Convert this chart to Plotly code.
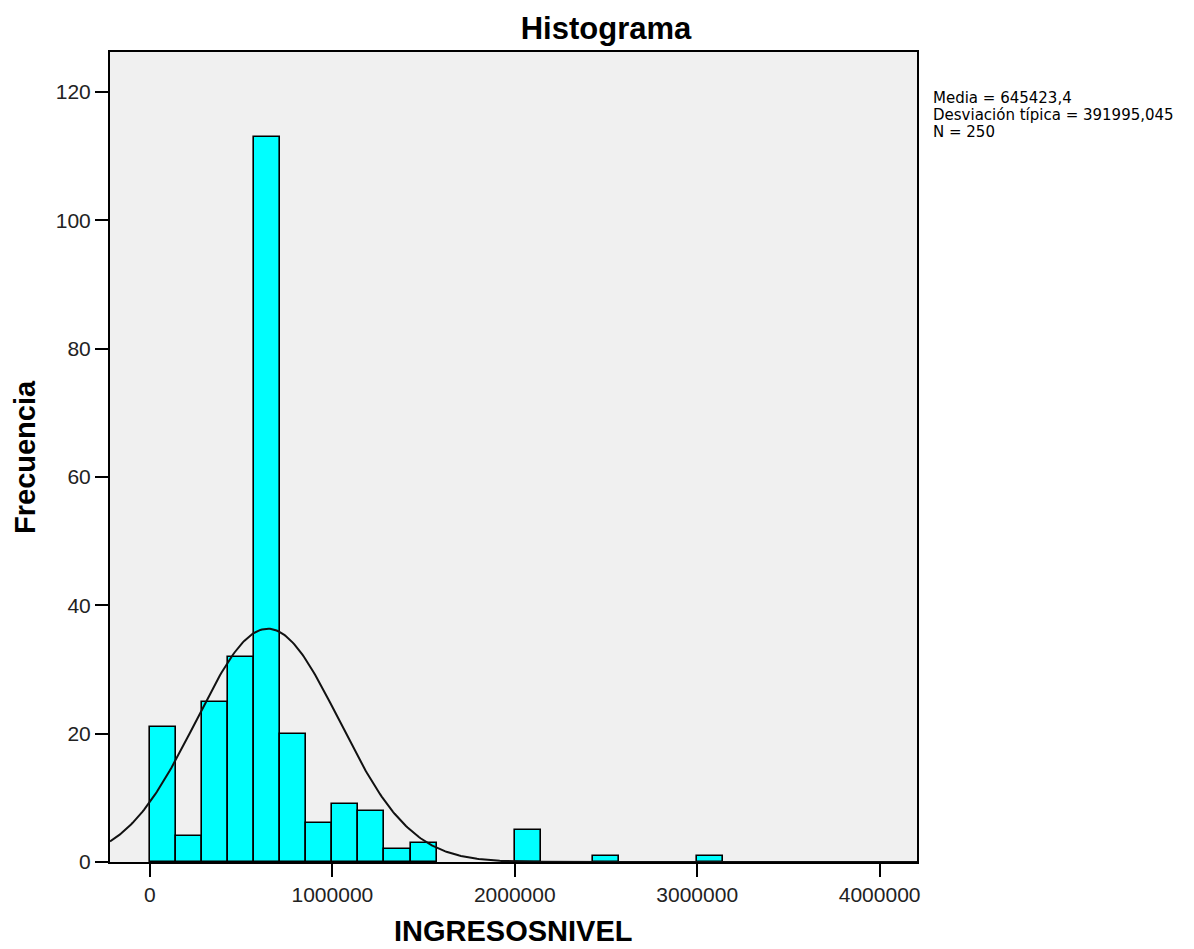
import numpy as np
import plotly.graph_objects as go

# ---- data ----
bin_width = 1_000_000 / 7  # seven bins per 1,000,000
bin_index = [0, 1, 2, 3, 4, 5, 6, 7, 8, 9, 10, 14, 17, 21]
counts = [21, 4, 25, 32, 113, 20, 6, 9, 8, 2, 3, 5, 1, 1]
mean_val = 645423.4
std_val = 391995.045
n_val = 250
x_ticks = [0, 1000000, 2000000, 3000000, 4000000]
y_ticks = [0, 20, 40, 60, 80, 100, 120]
stats_lines = ["Media = 645423,4", "Desviación típica = 391995,045", "N = 250"]

# ---- layout geometry (pixels) ----
W, H = 1194, 949
L, R, T, B = 110, 917, 52, 862
x_range = [-219000, 4205000]
y_range = [0, 126.2]

FONT = "Arial, Liberation Sans, sans-serif"
STAT_FONT = "DejaVu Sans, Arial, sans-serif"

centers = [(i + 0.5) * bin_width for i in bin_index]

fig = go.Figure()
fig.add_trace(go.Bar(
    x=centers, y=counts, width=[bin_width] * len(counts),
    marker=dict(color="#00FFFF", line=dict(color="#000000", width=1.6)),
    showlegend=False, hoverinfo="x+y",
))

# fitted normal curve (from mean, sd and N reported on the chart)
xc = np.linspace(x_range[0], x_range[1], 500)
yc = n_val * bin_width / (std_val * np.sqrt(2 * np.pi)) * np.exp(-0.5 * ((xc - mean_val) / std_val) ** 2)
fig.add_trace(go.Scatter(x=xc, y=yc, mode="lines",
                         line=dict(color="#111111", width=2), showlegend=False,
                         hoverinfo="skip"))

def px_x(p):
    return (p - L) / (R - L)

def px_y(p):
    return (B - p) / (B - T)

annotations = [
    dict(text="<b>INGRESOSNIVEL</b>", x=0.5, y=px_y(949), xref="paper", yref="paper",
         xanchor="center", yanchor="bottom", showarrow=False,
         font=dict(family=FONT, size=29, color="#000000")),
    dict(text="<b>Frecuencia</b>", x=px_x(25), y=0.5, xref="paper", yref="paper",
         xanchor="center", yanchor="middle", textangle=-90, showarrow=False,
         font=dict(family=FONT, size=29, color="#000000")),
]
for i, line in enumerate(stats_lines):
    annotations.append(dict(text=line, x=px_x(931), y=px_y(98 + 17 * i),
                            xref="paper", yref="paper", xanchor="left", yanchor="middle",
                            showarrow=False,
                            font=dict(family=STAT_FONT, size=15, color="#000000")))

fig.update_layout(
    width=W, height=H,
    margin=dict(l=L, r=W - R, t=T, b=H - B, pad=0),
    paper_bgcolor="#FFFFFF", plot_bgcolor="#F0F0F0",
    bargap=0,
    title=dict(text="<b>Histograma</b>", x=606 / W, y=1 - 28 / H,
               xref="container", yref="container", xanchor="center", yanchor="middle",
               font=dict(family=FONT, size=31, color="#000000")),
    annotations=annotations,
    xaxis=dict(range=x_range, tickvals=x_ticks, ticktext=[str(v) for v in x_ticks],
               showgrid=False, zeroline=False, showline=True, linecolor="#000000",
               linewidth=2, mirror=True, ticks="outside", ticklen=13, tickwidth=2,
               tickcolor="#000000", tickfont=dict(family=FONT, size=21, color="#222222")),
    yaxis=dict(range=y_range, tickvals=y_ticks, showgrid=False, zeroline=False,
               showline=True, linecolor="#000000", linewidth=2, mirror=True,
               ticks="outside", ticklen=13, tickwidth=2, tickcolor="#000000",
               tickfont=dict(family=FONT, size=21, color="#222222")),
)

fig.write_html("out.html")
